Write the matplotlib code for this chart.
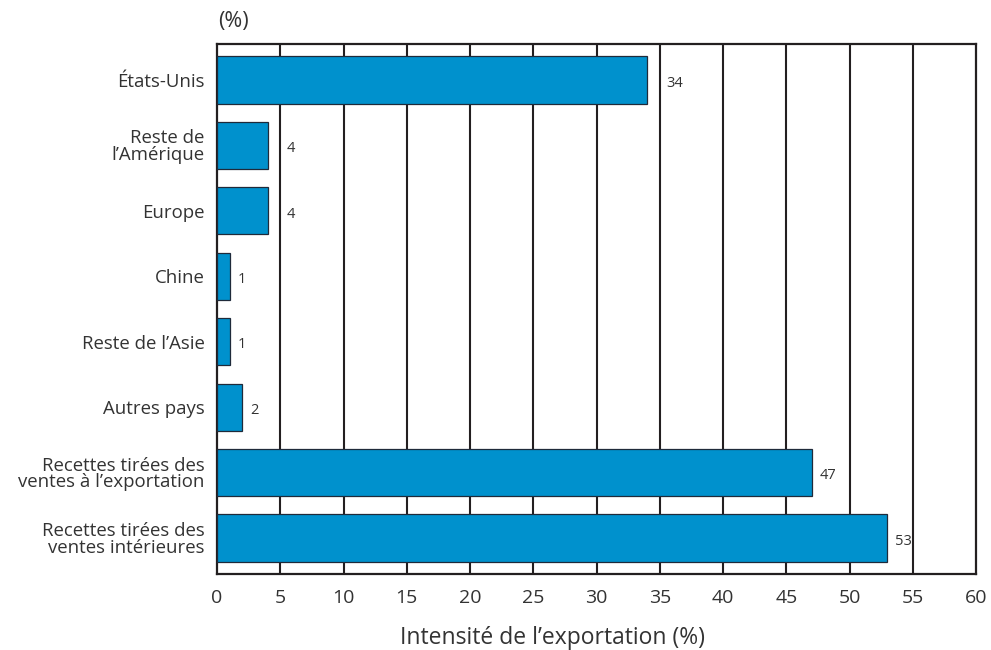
import matplotlib
matplotlib.use("Agg")
import matplotlib.pyplot as plt
import numpy as np

categories = ["États-Unis", "Reste de\nl\u2019Amérique", "Europe", "Chine",
              "Reste de l\u2019Asie", "Autres pays",
              "Recettes tirées des\nventes à l\u2019exportation",
              "Recettes tirées des\nventes intérieures"]
values = [34, 4, 4, 1, 1, 2, 47, 53]
value_labels = ["34", "4", "4", "1", "1", "2", "47", "53"]
xticks = list(range(0, 61, 5))

plt.rcParams['font.family'] = ['Open Sans', 'DejaVu Sans']

fig = plt.figure(figsize=(9.91, 6.5), dpi=100)
ax = fig.add_axes([217/991, 76/650, (976-217)/991, (574-44)/650])

y = np.arange(len(categories))
ax.barh(y, values, height=0.72, color="#0091cd", edgecolor="#1f2a3a", linewidth=0.9, zorder=3)

for yi, v, lab in zip(y, values, value_labels):
    nxt = (np.floor(v / 5) + 1) * 5
    xpos = v + 0.6
    if nxt - v < 1.5:
        xpos = nxt + 0.5
    ax.text(xpos, yi + 0.05, lab, va="center", ha="left", fontsize=10.5, color="#333333", zorder=4)

ax.set_xlim(0, 60)
ax.set_ylim(len(categories) - 1 + 0.55, -0.55)
ax.set_xticks(xticks)
ax.set_xticklabels([str(t) for t in xticks], fontsize=14, color="#333333")
ax.set_yticks(y)
ax.set_yticklabels(categories, fontsize=13.4, color="#333333", linespacing=0.92)
ax.tick_params(axis="both", length=0, pad=9)
ax.tick_params(axis="x", pad=11)

for t in xticks[1:-1]:
    ax.axvline(t, color="#231f20", linewidth=1.5, zorder=1)
for s in ax.spines.values():
    s.set_color("#231f20")
    s.set_linewidth(1.6)

ax.set_xlabel("Intensité de l\u2019exportation (%)", fontsize=16.5, color="#333333", labelpad=12)
ax.xaxis.set_label_coords((553 - 217) / 759, -0.098)
fig.text(218/991, 1 - 22/650, "(%)", fontsize=15.5, color="#333333", va="center", ha="left")

fig.savefig("out.png", dpi=100)
